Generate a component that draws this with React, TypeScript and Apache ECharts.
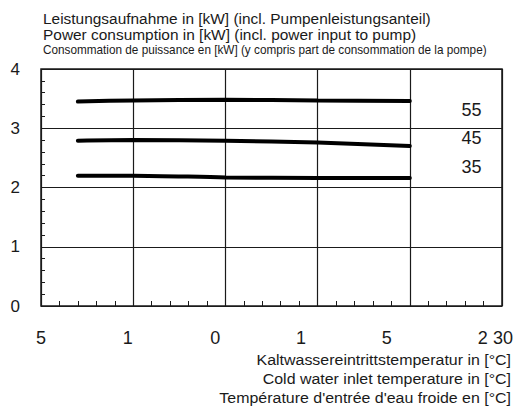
import { useEffect, useRef } from "react";
import * as echarts from "echarts";

// curve points (x in axis units 0..5, y in kW)
const xPoints = [0.4, 1, 2, 3, 4];
const power55 = [3.45, 3.47, 3.48, 3.47, 3.46];
const power45 = [2.79, 2.8, 2.79, 2.76, 2.7];
const power35 = [2.2, 2.2, 2.17, 2.16, 2.16];
const curveNames = ["55", "45", "35"];
const curveLabelX = 4.67;
const curveLabelY = [3.31, 2.84, 2.35];

// x tick labels as printed (shifted against the grid)
const xTickLabels = ["5", "1", "0", "1", "5", "2", "30"];
const xTickPos = [0, 0.94, 1.89, 2.82, 3.75, 4.79, 5.01];

const titleLines = [
  "Leistungsaufnahme in [kW] (incl. Pumpenleistungsanteil)",
  "Power consumption in [kW] (incl. power input to pump)",
  "Consommation de puissance en [kW] (y compris part de consommation de la pompe)"
];
const axisTitleLines = [
  "Kaltwassereintrittstemperatur in [°C]",
  "Cold water inlet temperature in [°C]",
  "Température d'entrée d'eau froide en [°C]"
];

const FONT = "Liberation Sans, Arial, sans-serif";
const INK = "#1a1a1a";

export default function App() {
  const chartRef = useRef<HTMLDivElement>(null);

  useEffect(() => {
    if (!chartRef.current) return;
    const chart = echarts.init(chartRef.current, null, { renderer: "svg" });
    const curves = [power55, power45, power35];

    chart.setOption({
      animation: false,
      grid: { left: 41, right: 13, top: 69, bottom: 101, show: true, borderColor: INK, borderWidth: 1.5 },
      xAxis: {
        type: "value",
        min: 0,
        max: 5,
        interval: 1,
        axisLine: { show: false },
        axisTick: { show: false, inside: true },
        minorTick: { show: true, splitNumber: 5, length: 5, lineStyle: { color: INK, width: 1 } },
        axisLabel: { show: false },
        splitLine: { show: true, lineStyle: { color: INK, width: 1.2 } }
      },
      yAxis: {
        type: "value",
        min: 0,
        max: 4,
        interval: 1,
        axisLine: { show: false },
        axisTick: { show: false, inside: true },
        minorTick: { show: true, splitNumber: 5, length: 4, lineStyle: { color: INK, width: 1 } },
        axisLabel: { margin: 21, fontSize: 17, color: INK, fontFamily: FONT },
        splitLine: { show: true, lineStyle: { color: INK, width: 1.2 } }
      },
      series: curves.map((vals, i) => ({
        name: curveNames[i],
        type: "line",
        data: xPoints.map((x, j) => [x, vals[j]]),
        smooth: 0.3,
        symbol: "none",
        lineStyle: { color: "#000", width: 4, cap: "round" }
      }))
    });

    const pt = (x: number, y: number) => chart.convertToPixel({ gridIndex: 0 }, [x, y]) as number[];
    const graphics: any[] = [];

    titleLines.forEach((t, i) => {
      graphics.push({
        type: "text",
        x: 43,
        y: [19, 35, 50][i],
        scaleX: i < 2 ? 1.065 : 0.98,
        style: {
          text: t,
          fontSize: i < 2 ? 14.5 : 12,
          fontFamily: FONT,
          fill: INK,
          textVerticalAlign: "middle"
        }
      });
    });

    xTickLabels.forEach((t, i) => {
      const [px] = pt(xTickPos[i], 0);
      graphics.push({
        type: "text",
        x: px,
        y: 338,
        style: { text: t, fontSize: 18, fontFamily: FONT, fill: INK, textAlign: "center", textVerticalAlign: "middle" }
      });
    });

    curveNames.forEach((t, i) => {
      const [px, py] = pt(curveLabelX, curveLabelY[i]);
      graphics.push({
        type: "text",
        x: px,
        y: py,
        style: { text: t, fontSize: 18, fontFamily: FONT, fill: INK, textAlign: "center", textVerticalAlign: "middle" }
      });
    });

    axisTitleLines.forEach((t, i) => {
      graphics.push({
        type: "text",
        x: 511,
        y: [360, 379, 398][i],
        scaleX: 1.1,
        style: { text: t, fontSize: 14.5, fontFamily: FONT, fill: INK, textAlign: "right", textVerticalAlign: "middle" }
      });
    });

    chart.setOption({ graphic: graphics });

    return () => {
      chart.dispose();
    };
  }, []);

  return (
    <div
      ref={chartRef}
      style={{ position: "fixed", left: 0, top: 0, width: "515px", height: "407px", background: "#fff" }}
    />
  );
}
